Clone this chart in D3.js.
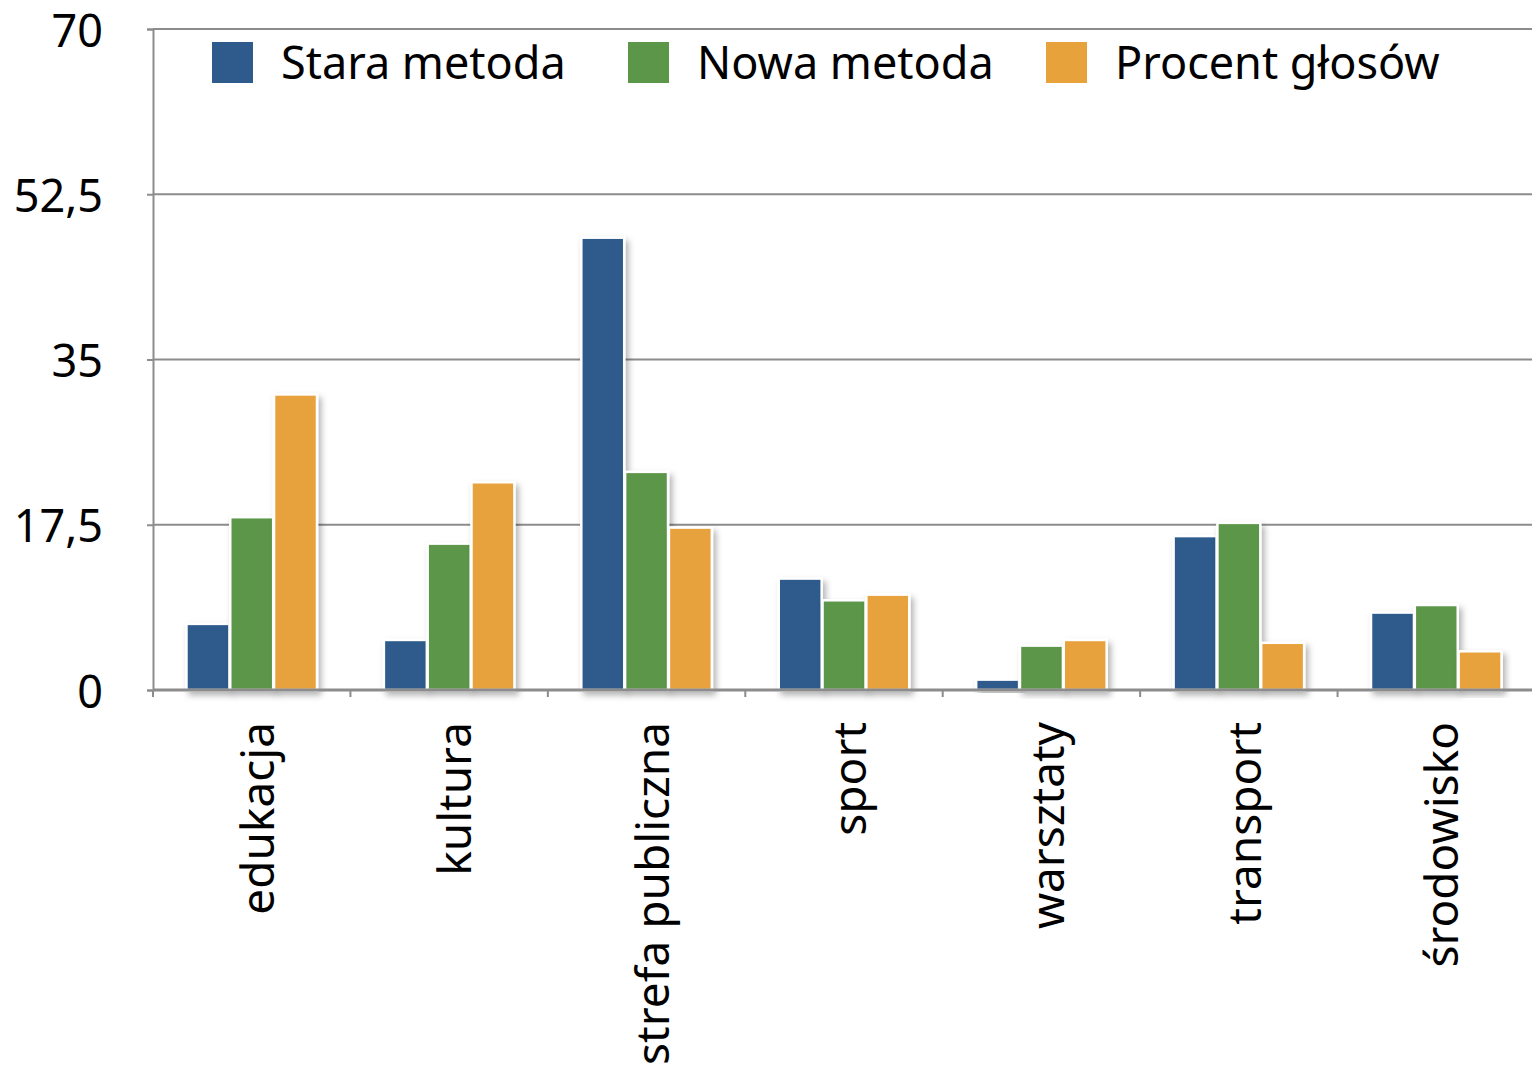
<!DOCTYPE html>
<head>
<style type="text/css">
    body {
      font-family: "Noto Sans", sans-serif;
      margin: 0;
      background: #fff;
    }
</style>
</head>
<script src="https://d3js.org/d3.v7.min.js"></script>
<body>
    <svg width="1532" height="1068"></svg>
    <script>
        // data
        var categories = ["edukacja", "kultura", "strefa publiczna", "sport", "warsztaty", "transport", "środowisko"];
        var seriesNames = ["Stara metoda", "Nowa metoda", "Procent głosów"];
        var staraMetoda = [7.0, 5.3, 47.9, 11.8, 1.1, 16.3, 8.2];
        var nowaMetoda = [18.3, 15.5, 23.1, 9.5, 4.7, 17.7, 9.0];
        var procentGlosow = [31.3, 22.0, 17.2, 10.1, 5.3, 5.0, 4.1];
        var yTicks = [0, 17.5, 35, 52.5, 70];

        var colors = ["#2e5a8c", "#5c9648", "#e8a23c"];
        var series = [staraMetoda, nowaMetoda, procentGlosow];

        var mLeft = 153, mRight = 1535, mTop = 29, mBottom = 690;

        var svg = d3.select("svg");

        var defs = svg.append("defs");
        var f = defs.append("filter").attr("id", "shadow")
            .attr("x", "-20%").attr("y", "-10%").attr("width", "150%").attr("height", "130%");
        f.append("feDropShadow")
            .attr("dx", 3).attr("dy", 4).attr("stdDeviation", 3)
            .attr("flood-color", "#000").attr("flood-opacity", 0.3);

        var y = d3.scaleLinear().domain([0, 70]).range([mBottom, mTop]);

        var x0 = d3.scaleBand()
            .domain(categories)
            .range([mLeft, mRight])
            .paddingInner(0.33)
            .paddingOuter(0.165);

        var x1 = d3.scaleBand()
            .domain(d3.range(3))
            .range([0, x0.bandwidth()])
            .padding(0.02);

        var fmt = function(d) { return String(d).replace(".", ","); };

        // gridlines
        svg.append("g")
            .selectAll("line")
            .data(yTicks)
            .enter().append("line")
            .attr("x1", mLeft).attr("x2", mRight)
            .attr("y1", function(d) { return y(d); })
            .attr("y2", function(d) { return y(d); })
            .style("stroke", "#8c8c8c")
            .style("stroke-width", 2);

        // y axis
        var yAxis = svg.append("g")
            .attr("transform", "translate(" + mLeft + ",0)")
            .call(d3.axisLeft(y).tickValues(yTicks).tickFormat(fmt).tickSize(6).tickPadding(44));
        yAxis.select(".domain").style("stroke", "#8c8c8c").style("stroke-width", 2);
        yAxis.selectAll(".tick line").style("stroke", "#8c8c8c").style("stroke-width", 2);
        yAxis.selectAll("text")
            .attr("dy", "0.38em")
            .style("font-family", "Noto Sans")
            .style("font-size", "45px")
            .style("fill", "#000");

        // bars
        var groups = svg.append("g")
            .selectAll("g")
            .data(categories)
            .enter().append("g")
            .attr("transform", function(d) { return "translate(" + x0(d) + ",0)"; });

        groups.selectAll("rect")
            .data(function(d, i) { return series.map(function(s, j) { return {k: j, v: s[i]}; }); })
            .enter().append("rect")
            .attr("x", function(d) { return x1(d.k); })
            .attr("width", x1.bandwidth())
            .attr("y", function(d) { return y(d.v); })
            .attr("height", function(d) { return y(0) - y(d.v); })
            .attr("fill", function(d) { return colors[d.k]; })
            .attr("filter", "url(#shadow)")
            .style("stroke", "#fff")
            .style("stroke-width", 2.5);

        // x axis
        var xAxis = svg.append("g")
            .attr("transform", "translate(0," + mBottom + ")")
            .call(d3.axisBottom(x0).tickSize(0).tickPadding(0));
        xAxis.select(".domain").remove();
        svg.append("line")
            .attr("x1", mLeft).attr("x2", mRight)
            .attr("y1", mBottom).attr("y2", mBottom)
            .style("stroke", "#8c8c8c").style("stroke-width", 3);
        // category separator ticks
        svg.append("g").selectAll("line")
            .data(d3.range(categories.length + 1))
            .enter().append("line")
            .attr("x1", function(i) { return mLeft + i * x0.step(); })
            .attr("x2", function(i) { return mLeft + i * x0.step(); })
            .attr("y1", mBottom).attr("y2", mBottom + 7)
            .style("stroke", "#8c8c8c").style("stroke-width", 2);

        xAxis.selectAll(".tick text")
            .attr("transform", "translate(6,32) rotate(-90)")
            .attr("text-anchor", "end")
            .attr("dy", "0.35em")
            .attr("x", 0).attr("y", 0)
            .style("font-family", "Noto Sans")
            .style("font-size", "46px")
            .style("fill", "#000");

        // legend
        var legendX = [212, 628, 1046];
        var legend = svg.append("g").selectAll("g")
            .data(seriesNames)
            .enter().append("g")
            .attr("transform", function(d, i) { return "translate(" + legendX[i] + ",42)"; });
        legend.append("rect")
            .attr("width", 41).attr("height", 41)
            .attr("fill", function(d, i) { return colors[i]; });
        legend.append("text")
            .attr("x", 69).attr("y", 37)
            .style("font-family", "Noto Sans")
            .style("font-size", "45px")
            .text(function(d) { return d; });
    </script>
</body>
